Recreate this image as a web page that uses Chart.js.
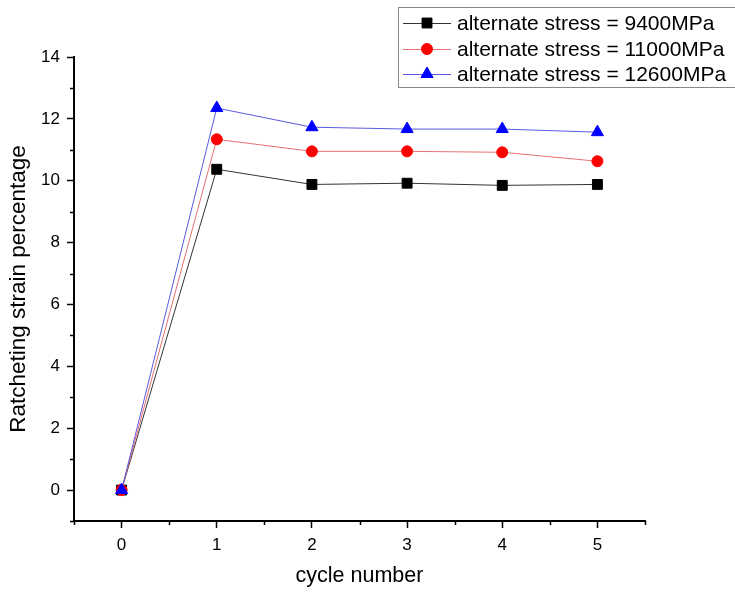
<!DOCTYPE html>
<html>
<head>
<meta charset="utf-8">
<script src="https://cdn.jsdelivr.net/npm/chart.js@4.4.1/dist/chart.umd.min.js"></script>
<style>
  html, body { margin: 0; padding: 0; background: #fff; }
  #wrap { width: 735px; height: 592px; }
</style>
</head>
<body>
<div id="wrap"><canvas id="myChart" width="735" height="592"></canvas></div>
<script>
// data
const cycles = [0, 1, 2, 3, 4, 5];
const stress9400 = [0, 10.37, 9.88, 9.92, 9.85, 9.88];
const stress11000 = [0, 11.34, 10.95, 10.95, 10.92, 10.63];
const stress12600 = [0, 12.35, 11.73, 11.67, 11.67, 11.57];
const seriesNames = [
  "alternate stress = 9400MPa",
  "alternate stress = 11000MPa",
  "alternate stress = 12600MPa"
];

const FONT = "'Liberation Sans', Arial, sans-serif";

function toPoints(ys) {
  return cycles.map((x, i) => ({ x: x, y: ys[i] }));
}

// short minor ticks (major ones come from the scales themselves)
const minorTicks = {
  id: "minorTicks",
  afterDraw(chart) {
    const ctx = chart.ctx;
    const xs = chart.scales.x, ys = chart.scales.y;
    const area = chart.chartArea;
    ctx.save();
    ctx.strokeStyle = "#000";
    ctx.lineWidth = 1.5;
    ctx.beginPath();
    for (let v = -0.5; v <= 5.5; v += 1) {
      const px = Math.round(xs.getPixelForValue(v)) + 0.5;
      ctx.moveTo(px, area.bottom);
      ctx.lineTo(px, area.bottom + 4);
    }
    for (let v = -1; v <= 13; v += 2) {
      const py = Math.round(ys.getPixelForValue(v)) + 0.5;
      ctx.moveTo(area.left, py);
      ctx.lineTo(area.left - 4, py);
    }
    ctx.stroke();
    ctx.restore();
  }
};

// boxed legend in the top right corner
const boxLegend = {
  id: "boxLegend",
  afterDraw(chart) {
    const ctx = chart.ctx;
    const sets = [0, 1, 2].map(i => chart.data.datasets[i]);
    ctx.save();
    ctx.fillStyle = "#fff";
    ctx.fillRect(398, 7, 345, 80);
    ctx.strokeStyle = "#888";
    ctx.lineWidth = 1;
    ctx.strokeRect(398.5, 7.5, 345, 80);
    ctx.font = "21px " + FONT;
    ctx.textBaseline = "middle";
    const rows = [23, 49, 74];
    sets.forEach((ds, i) => {
      const y = rows[i];
      ctx.strokeStyle = ds.borderColor;
      ctx.lineWidth = 1;
      ctx.beginPath();
      ctx.moveTo(403, y + 0.5);
      ctx.lineTo(451, y + 0.5);
      ctx.stroke();
      ctx.fillStyle = ds.pointBackgroundColor;
      ctx.strokeStyle = ds.pointBorderColor;
      ctx.beginPath();
      Chart.helpers.drawPoint(ctx, {
        pointStyle: ds.pointStyle,
        radius: ds.pointRadius,
        borderWidth: 1,
        rotation: 0
      }, 427, y);
      ctx.fillStyle = "#000";
      ctx.fillText(seriesNames[i], 457, y + 1);
    });
    ctx.restore();
  }
};

const ctx = document.getElementById("myChart").getContext("2d");

const myChart = new Chart(ctx, {
  type: "line",
  data: {
    datasets: [
      {
        label: seriesNames[0],
        data: toPoints(stress9400),
        borderColor: "#333",
        borderWidth: 1,
        pointStyle: "rect",
        pointRadius: 7,
        pointBackgroundColor: "#000",
        pointBorderColor: "#000",
        order: 2
      },
      {
        label: seriesNames[1],
        data: toPoints(stress11000),
        borderColor: "#e87070",
        borderWidth: 1,
        pointStyle: "circle",
        pointRadius: 5.5,
        pointBackgroundColor: "#f00",
        pointBorderColor: "#f00",
        order: 1
      },
      {
        label: seriesNames[2],
        data: toPoints(stress12600),
        borderColor: "#5a5ae0",
        borderWidth: 1,
        pointStyle: "triangle",
        pointRadius: 7,
        pointBackgroundColor: "#00f",
        pointBorderColor: "#00f",
        order: 0
      }
    ]
  },
  options: {
    responsive: false,
    animation: false,
    layout: { padding: { left: 0, top: 57, right: 90, bottom: 0 } },
    plugins: {
      legend: { display: false },
      tooltip: { enabled: false }
    },
    scales: {
      x: {
        type: "linear",
        min: -0.5,
        max: 5.5,
        afterFit(scale) { scale.height = 71; },
        border: { display: true, color: "#000", width: 2 },
        grid: {
          drawOnChartArea: false,
          drawTicks: true,
          tickLength: 7,
          tickWidth: 1.5,
          tickColor: c => (Number.isInteger(c.tick.value) ? "#000" : "rgba(0,0,0,0)")
        },
        ticks: {
          stepSize: 0.5,
          autoSkip: false,
          maxRotation: 0,
          padding: 7,
          color: "#000",
          font: { family: FONT, size: 17 },
          callback: v => (Number.isInteger(v) ? v : "")
        },
        title: {
          display: true,
          text: "cycle number",
          color: "#000",
          font: { family: FONT, size: 21.5 },
          padding: { top: 0, bottom: 3 }
        }
      },
      y: {
        min: -1,
        max: 14,
        afterFit(scale) { scale.width = 74; },
        border: { display: true, color: "#000", width: 2 },
        grid: {
          drawOnChartArea: false,
          drawTicks: true,
          tickLength: 7,
          tickWidth: 1.5,
          tickColor: c => (c.tick.value % 2 === 0 ? "#000" : "rgba(0,0,0,0)")
        },
        ticks: {
          stepSize: 1,
          autoSkip: false,
          padding: 7,
          color: "#000",
          font: { family: FONT, size: 17 },
          callback: v => (v % 2 === 0 ? v : "")
        },
        title: {
          display: true,
          text: "Ratcheting strain percentage",
          color: "#000",
          font: { family: FONT, size: 22.5 },
          padding: { top: 5, bottom: 0 }
        }
      }
    }
  },
  plugins: [minorTicks, boxLegend]
});
</script>
</body>
</html>
